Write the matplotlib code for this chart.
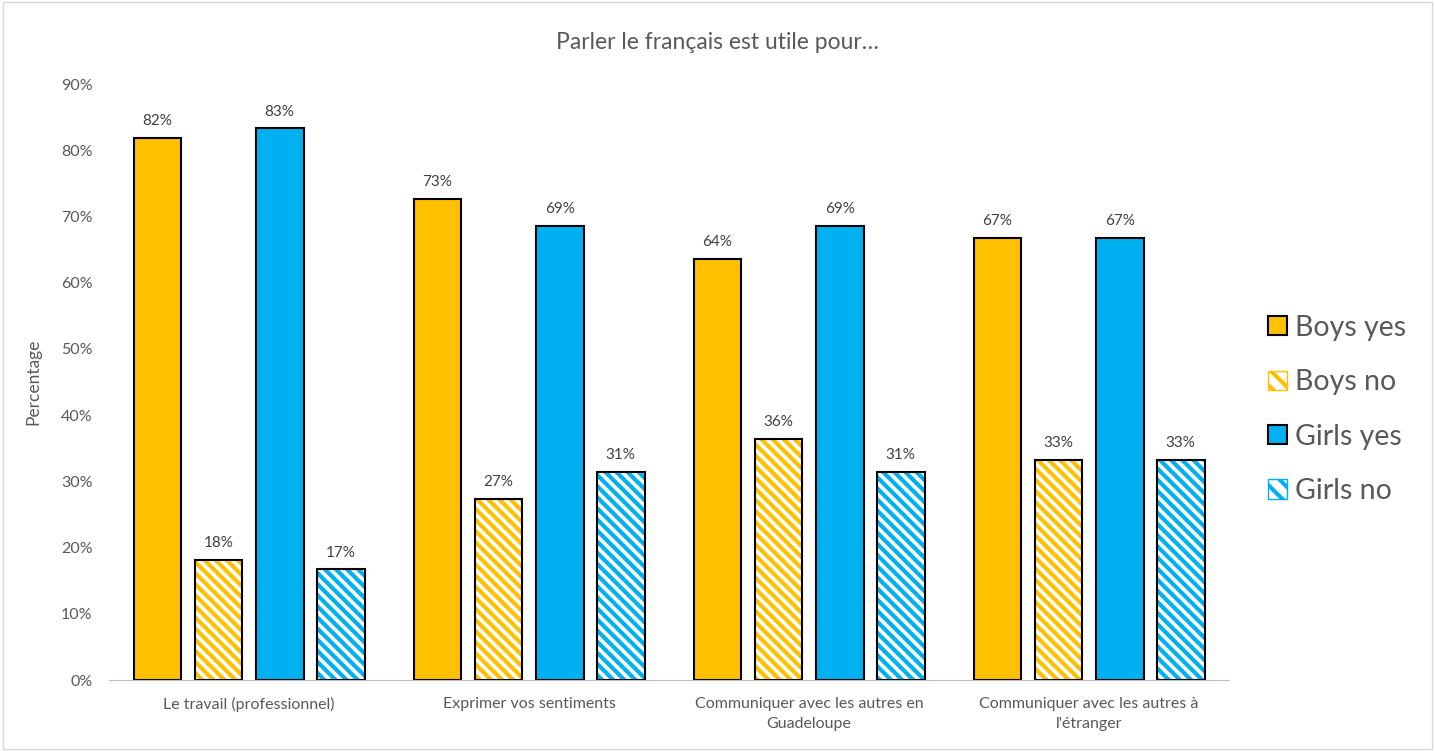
import matplotlib.pyplot as plt
import numpy as np
from matplotlib.patches import Patch, Rectangle

# --- data ---
categories = ['Le travail (professionnel)', 'Exprimer vos sentiments',
              'Communiquer avec les autres en\nGuadeloupe',
              'Communiquer avec les autres à\nl\'étranger']
series = ['Boys yes', 'Boys no', 'Girls yes', 'Girls no']
boys_yes = [81.8, 72.7, 63.6, 66.7]
boys_no = [18.2, 27.3, 36.4, 33.3]
girls_yes = [83.3, 68.6, 68.6, 66.7]
girls_no = [16.7, 31.4, 31.4, 33.3]

values = [boys_yes, boys_no, girls_yes, girls_no]
colors = ['#FFC000', '#FFC000', '#00B0F0', '#00B0F0']
hatched = [False, True, False, True]

plt.rcParams['font.family'] = ['Lato', 'DejaVu Sans']
plt.rcParams['hatch.linewidth'] = 3.0
text_col = '#595959'

fig = plt.figure(figsize=(14.35, 7.51), dpi=100)
ax = fig.add_axes([0.076, 0.0945, 0.7805, 0.7935])

x = np.arange(len(categories))
w = 0.171
step = 0.218
for i, (vals, c, h) in enumerate(zip(values, colors, hatched)):
    pos = x + (i - 1.5) * step
    if h:
        ax.bar(pos, vals, w, color='white', edgecolor=c, hatch='\\\\\\', linewidth=0)
        bars = ax.bar(pos, vals, w, fill=False, edgecolor='black', linewidth=1.5)
    else:
        bars = ax.bar(pos, vals, w, color=c, edgecolor='black', linewidth=1.5)
    for b, v in zip(bars, vals):
        ax.text(b.get_x() + b.get_width() / 2, v + 1.5, f'{v:.0f}%',
                ha='center', va='bottom', fontsize=11, color='#404040')

ax.set_xlim(-0.5, len(categories) - 0.5)
ax.set_ylim(0, 90)
ax.set_yticks(np.arange(0, 91, 10))
ax.set_yticklabels([f'{t}%' for t in range(0, 91, 10)])
ax.set_xticks(x)
ax.set_xticklabels(categories, linespacing=1.6)
ax.tick_params(axis='both', length=0, labelsize=11.5, labelcolor=text_col)
ax.tick_params(axis='y', pad=12)
ax.tick_params(axis='x', pad=12)
for s in ['top', 'right', 'left']:
    ax.spines[s].set_visible(False)
ax.spines['bottom'].set_color('#BFBFBF')
ax.set_ylabel('Percentage', fontsize=12.5, color=text_col, labelpad=14)

fig.text(0.5, 0.943, 'Parler le français est utile pour…', ha='center', va='center',
         fontsize=16.5, color=text_col)

handles = []
for s, c, h in zip(series, colors, hatched):
    if h:
        handles.append(Patch(facecolor='white', edgecolor=c, hatch='\\\\', label=s))
    else:
        handles.append(Patch(facecolor=c, edgecolor='black', linewidth=1.5, label=s))
leg = fig.legend(handles=handles, loc='center left', bbox_to_anchor=(0.866, 0.455),
                 frameon=False, fontsize=20.5, handlelength=0.65, handleheight=0.65,
                 handletextpad=0.3, labelspacing=1.0)
for t in leg.get_texts():
    t.set_color(text_col)

fig.patches.append(Rectangle((0.002, 0.002), 0.996, 0.996, transform=fig.transFigure,
                             fill=False, edgecolor='#D9D9D9', linewidth=1))

fig.savefig('out.png', dpi=100)
